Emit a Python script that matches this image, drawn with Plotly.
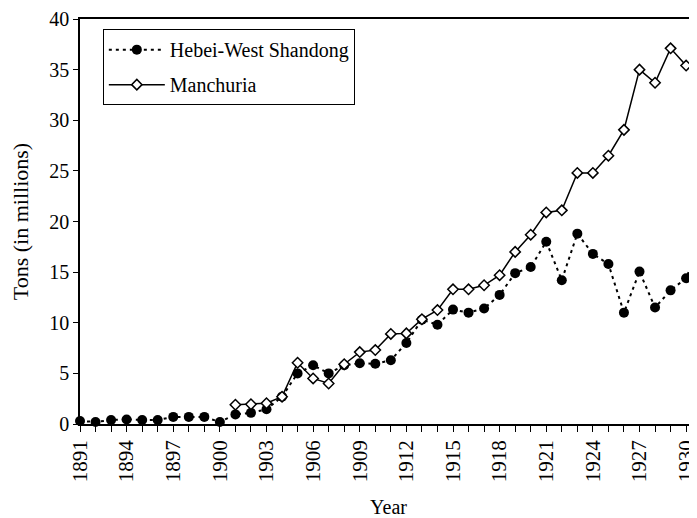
import plotly.graph_objects as go

years = list(range(1891, 1932))
hebei = [0.3, 0.2, 0.4, 0.45, 0.4, 0.4, 0.7, 0.7, 0.7, 0.2,
         0.95, 1.1, 1.45, 2.7, 5.0, 5.8, 5.0, 5.8, 6.0, 5.95,
         6.3, 8.0, 10.3, 9.8, 11.3, 11.0, 11.4, 12.75, 14.9, 15.5,
         18.0, 14.2, 18.8, 16.8, 15.8, 11.0, 15.05, 11.5, 13.2, 14.4,
         18.2]
manchuria_years = list(range(1901, 1932))
manchuria = [1.9, 1.95, 2.05, 2.7, 6.05, 4.5, 4.0, 5.9, 7.1, 7.3,
             8.9, 8.95, 10.35, 11.25, 13.3, 13.3, 13.7, 14.7, 17.0, 18.7,
             20.9, 21.1, 24.8, 24.8, 26.5, 29.05, 35.0, 33.7, 37.1, 35.4,
             36.2]
tick_years = list(range(1891, 1931, 3))

serif = "Liberation Serif"

fig = go.Figure()
fig.add_trace(go.Scatter(
    x=years, y=hebei, name="Hebei-West Shandong", mode="lines+markers",
    line=dict(color="black", width=2, dash="3px,4px"),
    marker=dict(symbol="circle", size=10, color="black"),
    legendgroup="a", cliponaxis=False))
fig.add_trace(go.Scatter(
    x=manchuria_years, y=manchuria, name="Manchuria", mode="lines+markers",
    line=dict(color="black", width=1.5),
    marker=dict(symbol="diamond", size=8, color="white",
                line=dict(color="black", width=1.5)),
    legendgroup="b", cliponaxis=False))

# page body has an 8px margin, so the figure is sized to fit the window
fig.update_layout(
    width=689, height=510,
    margin=dict(l=72, r=0, t=11, b=94),
    plot_bgcolor="white", paper_bgcolor="white",
    font=dict(family=serif, size=20, color="black"),
    legend=dict(x=0.037, y=0.975, xanchor="left", yanchor="top",
                bordercolor="black", borderwidth=1, bgcolor="white",
                font=dict(family=serif, size=20), itemwidth=56,
                tracegroupgap=6, traceorder="grouped"),
    xaxis=dict(range=[1891, 1930.7], tickvals=tick_years, tickangle=-90,
               tickfont=dict(family=serif, size=21, color="black"),
               automargin=False, ticklabeloverflow="allow",
               showline=True, linecolor="black", linewidth=1.5, mirror=True,
               ticks="outside", ticklen=6, tickcolor="black",
               minor=dict(dtick=1, ticks="outside", ticklen=6, tickcolor="black"),
               showgrid=False, zeroline=False,
               title=dict(text="Year", standoff=19,
                          font=dict(family=serif, size=20))),
    yaxis=dict(range=[0, 40], dtick=5,
               tickfont=dict(family=serif, size=20, color="black"),
               automargin=False,
               showline=True, linecolor="black",
               linewidth=1.5, ticks="outside", ticklen=5, tickcolor="black",
               showgrid=False, zeroline=False,
               title=dict(text="\u00a0\u00a0\u00a0\u00a0Tons (in millions)",
                          standoff=38, font=dict(family=serif, size=22))),
)

fig.write_html("out.html")
